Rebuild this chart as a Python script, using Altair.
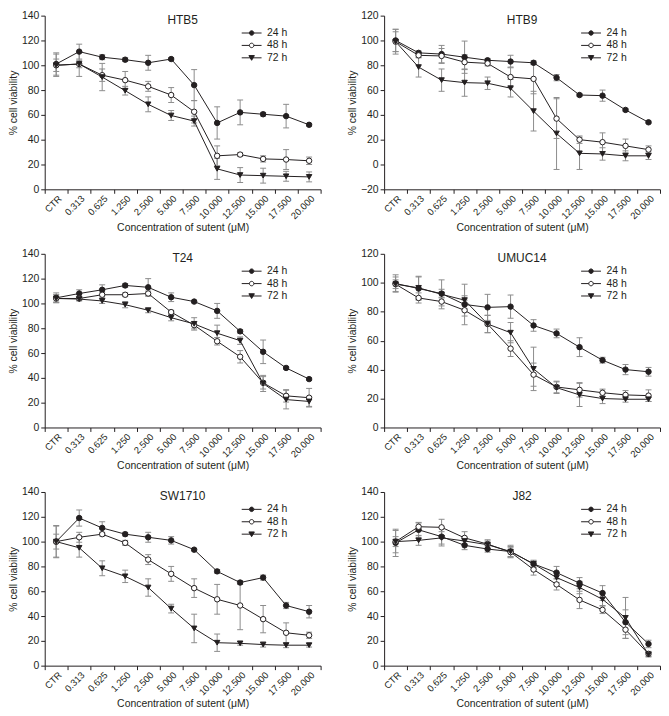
import altair as alt
import pandas as pd

# ---------------- data ----------------
conc = ["CTR", "0.313", "0.625", "1.250", "2.500", "5.000", "7.500",
        "10.000", "12.500", "15.000", "17.500", "20.000"]
series = ["24 h", "48 h", "72 h"]
panel_names = ["HTB5", "HTB9", "T24", "UMUC14", "SW1710", "J82"]
y_domains = {"HTB5": [0, 140], "HTB9": [-20, 120], "T24": [0, 140],
             "UMUC14": [0, 120], "SW1710": [0, 140], "J82": [0, 140]}

htb5_24 = [101, 111, 106.5, 104.5, 102, 105, 84, 53.5, 62, 60.5, 59, 52]
htb5_24_err = [9, 6, 2, 1.5, 6, 1, 12.5, 13, 10, 1.5, 9.5, 1]
htb5_48 = [100, 101, 92, 88, 83, 76, 62.5, 27, 28, 24.5, 24, 23]
htb5_48_err = [5, 3, 5, 7, 4, 6, 9, 8, 1.5, 2.5, 8, 3]
htb5_72 = [100, 101, 90.5, 79.5, 68.5, 59.5, 55, 16.5, 11.5, 11, 10.5, 10]
htb5_72_err = [9, 10, 11, 3.5, 6, 4, 4, 8.5, 6, 6, 4, 4]

htb9_24 = [100, 90, 89, 86.5, 84, 83, 82, 70, 56, 55.5, 44, 34]
htb9_24_err = [9, 1.5, 7, 13, 1.5, 5, 1.5, 2.5, 1, 4.5, 1, 1]
htb9_48 = [99, 88, 87.5, 82.5, 81.5, 70.5, 69, 37, 20, 18, 15, 12]
htb9_48_err = [10, 2, 6, 6, 2, 8, 12, 16, 3, 7.5, 5.5, 3]
htb9_72 = [99, 78.5, 68, 66, 65.5, 61.5, 43, 25, 9, 8.5, 7, 7]
htb9_72_err = [8, 8, 9, 11, 5, 7, 16, 29, 13, 5, 4, 3]

t24_24 = [104.5, 108, 111, 114.5, 113, 105, 101.5, 94, 77.5, 61, 48, 39]
t24_24_err = [4, 3, 4, 1.5, 7, 3.5, 1, 6, 1.5, 9.5, 1, 1]
t24_48 = [104, 104, 107, 107, 108, 93, 82.5, 69.5, 57, 36, 25.5, 24]
t24_48_err = [3, 1.5, 2, 1.5, 2, 1.5, 3, 3, 5, 5, 5, 7.5]
t24_72 = [104, 103.5, 102, 99, 94.5, 88.5, 83.5, 76, 70, 35.5, 22.5, 21]
t24_72_err = [3, 1.5, 2, 2.5, 2, 2.5, 5, 6.5, 3, 6.5, 7.5, 4]

umuc14_24 = [99.5, 96, 92.5, 85, 83, 83.5, 70.5, 65, 55.5, 46.5, 40, 38.5]
umuc14_24_err = [6, 8, 3, 3, 9, 8, 4, 3, 6.5, 2, 3.5, 3]
umuc14_48 = [99, 89.5, 87, 81, 71.5, 54.5, 36.5, 28, 26, 24, 22.5, 22]
umuc14_48_err = [3, 3.5, 3, 10, 6, 5.5, 8, 4, 5, 2.5, 3, 4]
umuc14_72 = [99, 96.5, 92, 88, 71.5, 65.5, 40.5, 27.5, 22.5, 20, 19.5, 19.5]
umuc14_72_err = [5, 8, 10, 11, 6, 7, 15, 4, 8, 3.5, 2, 1.5]

sw1710_24 = [100, 119, 111, 106, 103.5, 101, 93.5, 76, 67, 71, 48.5, 43.5]
sw1710_24_err = [6, 6.5, 5, 1.5, 4, 3, 1, 1.5, 1.5, 2, 2.5, 5]
sw1710_48 = [100, 103.5, 106, 99, 85.5, 74, 62.5, 53.5, 48.5, 37.5, 26.5, 24.5]
sw1710_48_err = [12.5, 4, 1.5, 2, 4, 6, 7.5, 12, 19.5, 11, 8, 2.5]
sw1710_72 = [100, 95, 78.5, 72, 63, 46, 30, 18.5, 18, 17, 16.5, 16.5]
sw1710_72_err = [13, 7.5, 6, 5, 7, 3.5, 11.5, 7, 1.5, 2, 2, 1.5]

j82_24 = [99, 109.5, 104, 97, 94, 92, 82, 75, 66.5, 58.5, 35, 17.5]
j82_24_err = [11, 6, 7.5, 3.5, 2.5, 4, 2.5, 5, 4.5, 6, 10, 3]
j82_48 = [100, 112, 111.5, 103, 98, 91.5, 77.5, 65.5, 53, 45, 29, 9.5]
j82_48_err = [4, 3, 6.5, 5, 3.5, 4, 4.5, 4.5, 7, 3, 7, 2]
j82_72 = [100, 101, 103, 100.5, 97.5, 92, 82, 71, 63, 53.5, 38.5, 9]
j82_72_err = [9, 4, 5, 3, 3, 5, 3, 4, 5, 5, 16.5, 2]

values = {
    "HTB5": {"24 h": (htb5_24, htb5_24_err), "48 h": (htb5_48, htb5_48_err), "72 h": (htb5_72, htb5_72_err)},
    "HTB9": {"24 h": (htb9_24, htb9_24_err), "48 h": (htb9_48, htb9_48_err), "72 h": (htb9_72, htb9_72_err)},
    "T24": {"24 h": (t24_24, t24_24_err), "48 h": (t24_48, t24_48_err), "72 h": (t24_72, t24_72_err)},
    "UMUC14": {"24 h": (umuc14_24, umuc14_24_err), "48 h": (umuc14_48, umuc14_48_err), "72 h": (umuc14_72, umuc14_72_err)},
    "SW1710": {"24 h": (sw1710_24, sw1710_24_err), "48 h": (sw1710_48, sw1710_48_err), "72 h": (sw1710_72, sw1710_72_err)},
    "J82": {"24 h": (j82_24, j82_24_err), "48 h": (j82_48, j82_48_err), "72 h": (j82_72, j82_72_err)},
}

# ---------------- style ----------------
FONT = "Liberation Sans"
INK = "#231f20"
GREY = "#8c8c8c"
W, H = 278, 175

# legend glyphs: marker with a short line through it
STUB_CIRCLE = ("M-2,0H-0.45M0.45,0H2M-0.45,0A0.45,0.45 0 1,0 0.45,0"
               "A0.45,0.45 0 1,0 -0.45,0Z")
STUB_TRI = "M-2,0H2M-0.55,-0.45L0.55,-0.45L0,0.5Z"


def panel(name):
    rows = []
    for s in series:
        vals, errs = values[name][s]
        for i, c in enumerate(conc):
            rows.append(dict(conc=c, idx=i, series=s, value=vals[i],
                             lo=vals[i] - errs[i], hi=vals[i] + errs[i]))
    df = pd.DataFrame(rows)
    lo, hi = y_domains[name]

    xenc = alt.X("conc:N", sort=conc,
                 scale=alt.Scale(type="band", paddingInner=0, paddingOuter=0),
                 axis=alt.Axis(title="Concentration of sutent (μM)", labelAngle=-45,
                               tickBand="extent", labelOverlap=False, labelPadding=0,
                               labelFontSize=9.5, titlePadding=2))
    yscale = alt.Scale(domain=[lo, hi], nice=False, zero=False)
    yaxis = alt.Axis(values=list(range(lo, hi + 1, 20)), title="% cell viability",
                     labelFontSize=10.5, labelPadding=2, titlePadding=3)

    base = alt.Chart(df)
    bars = base.mark_rule(color=GREY, strokeWidth=1).encode(
        x=xenc, y=alt.Y("lo:Q", scale=yscale, axis=yaxis), y2="hi:Q")
    cap_lo = base.mark_tick(color=GREY, size=6, thickness=1, opacity=1).encode(
        x=xenc, y=alt.Y("lo:Q", scale=yscale, axis=yaxis))
    cap_hi = base.mark_tick(color=GREY, size=6, thickness=1, opacity=1).encode(
        x=xenc, y=alt.Y("hi:Q", scale=yscale, axis=yaxis))
    line = base.mark_line(color=INK, strokeWidth=1).encode(
        x=xenc, y=alt.Y("value:Q", scale=yscale, axis=yaxis),
        detail="series:N", order="idx:Q")
    pts = base.mark_point(filled=True, size=30, stroke=INK, strokeWidth=1, opacity=1).encode(
        x=xenc, y=alt.Y("value:Q", scale=yscale, axis=yaxis),
        shape=alt.Shape("series:N",
                        scale=alt.Scale(domain=series, range=["circle", "circle", "triangle-down"]),
                        legend=None),
        fill=alt.Fill("series:N", scale=alt.Scale(domain=series, range=[INK, "white", INK]),
                      legend=None))

    legend = alt.Legend(
        title=None, orient="none", legendX=W - 75, legendY=12,
        symbolSize=100, labelOffset=10, labelFontSize=10.5, labelFont=FONT,
        labelColor=INK, rowPadding=1.5, symbolStrokeWidth=1,
        symbolStrokeColor=INK, symbolFillColor="white", symbolOpacity=1)
    leg = base.transform_filter("false").mark_point(
        filled=True, stroke=INK, strokeWidth=1, opacity=1).encode(
        x=xenc, y=alt.Y("value:Q", scale=yscale, axis=yaxis),
        shape=alt.Shape("series:N",
                        scale=alt.Scale(domain=series, range=[STUB_CIRCLE, STUB_CIRCLE, STUB_TRI]),
                        legend=legend),
        fill=alt.Fill("series:N", scale=alt.Scale(domain=series, range=[INK, "white", INK]),
                      legend=legend))

    return alt.layer(bars, cap_lo, cap_hi, line, pts, leg).resolve_scale(
        shape="independent", fill="independent").properties(
        width=W, height=H,
        title=alt.TitleParams(text=name, offset=-28, baseline="bottom", anchor="middle",
                              fontSize=12, fontWeight="normal", font=FONT, color=INK))


chart = alt.concat(*[panel(n) for n in panel_names], columns=2,
                   spacing={"row": 16, "column": 26}).resolve_scale(
    shape="independent", fill="independent").properties(padding=0)

chart = chart.configure_axis(
    domainColor=INK, tickColor=INK, labelColor=INK, titleColor=INK,
    labelFont=FONT, titleFont=FONT, titleFontSize=10.5,
    titleFontWeight="normal", grid=False, tickSize=4, domainWidth=1, tickWidth=1
).configure_view(stroke=None)

chart.save("out.html", embed_options={"renderer": "svg", "actions": False})
